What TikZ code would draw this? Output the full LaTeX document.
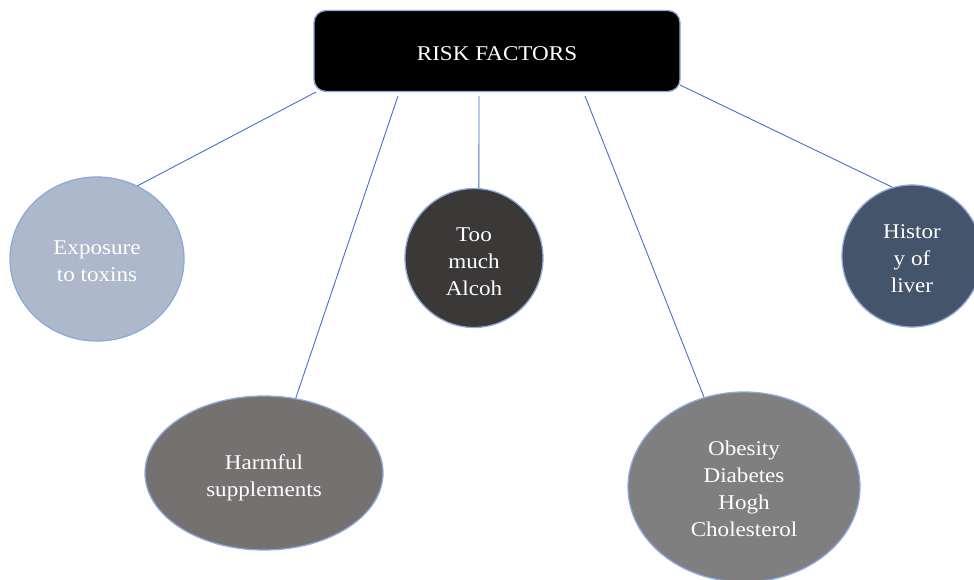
\documentclass[tikz,border=0pt]{standalone}
\usepackage{fontspec}
\setmainfont{Liberation Serif}[FakeStretch=1.1]
\usetikzlibrary{shapes.geometric}
\definecolor{edgeblue}{HTML}{4472C4}
\definecolor{rimblue}{HTML}{8EA9DB}
\definecolor{cexpo}{HTML}{ADB9CA}
\definecolor{charm}{HTML}{767171}
\definecolor{calc}{HTML}{3B3838}
\definecolor{cobes}{HTML}{7F7F7F}
\definecolor{chist}{HTML}{44546A}
\newcommand{\lowr}[1]{\rule{0pt}{#1}}
\begin{document}
\begin{tikzpicture}[x=1pt,y=-1pt,
  lbl/.style={text=white, align=center, font=\fontsize{21}{27}\selectfont, inner sep=0pt},
  blob/.style={ellipse, lbl, draw=rimblue, line width=1.3pt},
  link/.style={draw=edgeblue, line width=0.9pt}]
\useasboundingbox (0,0) rectangle (974,580);
\clip (0,0) rectangle (974,580);

\node[lbl, rectangle, rounded corners=12pt, fill=black, draw=rimblue, line width=1.3pt,
      minimum width=366, minimum height=81] (title) at (497,51) {\lowr{20pt}RISK FACTORS};

\node[blob, fill=cexpo, minimum width=174, minimum height=164] (expo) at (97,259) {\lowr{19pt}Exposure\\to toxins};
\node[blob, fill=charm, minimum width=238, minimum height=154] (harm) at (264,473) {\lowr{24pt}Harmful\\supplements};
\node[blob, fill=calc, minimum width=138, minimum height=139] (alc) at (474,258) {\lowr{21pt}Too\\much\\Alcoh};
\node[blob, fill=cobes, minimum width=232, minimum height=190] (obes) at (744,487) {\lowr{19pt}Obesity\\Diabetes\\Hogh\\Cholesterol};
\node[blob, fill=chist, minimum width=140, minimum height=142] (hist) at (912,256) {\lowr{19pt}Histor\\y of\\liver};

\coordinate (s1) at (316,92);
\coordinate (s2) at (398,96);
\coordinate (s3) at (479,96);
\coordinate (s4) at (585,96);
\coordinate (s5) at (680,85);

\draw[link] (s1) -- (expo.61);
\draw[link] (s2) -- (harm.67);
\draw[link] (s3) -- (alc.86);
\draw[link] (s4) -- (obes.114);
\draw[link] (s5) -- (hist.106);
\end{tikzpicture}
\end{document}
